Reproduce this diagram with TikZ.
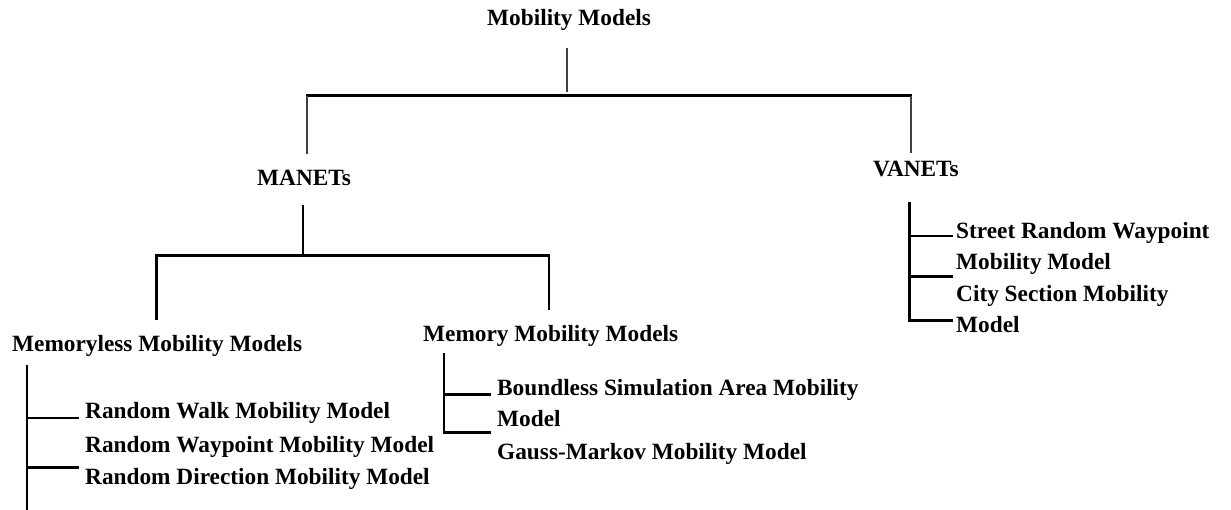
\documentclass[tikz,border=0pt]{standalone}
\usepackage{fontspec}
\setmainfont{Liberation Serif}
\begin{document}
\begin{tikzpicture}[x=1pt,y=-1pt,
  lbl/.style={anchor=base west, inner sep=0pt, font=\fontsize{23.3}{28}\selectfont\bfseries},
  lnA/.style={draw=black!75, line width=1.4pt},
  lnB/.style={draw=black, line width=2pt},
  lnC/.style={draw=black, line width=3pt},
  line cap=butt]
\useasboundingbox (0,0) rectangle (1231,510);

% labels
\node[lbl] (root)  at (487,26)  {Mobility Models};
\node[lbl] (manet) at (257,186) {MANETs};
\node[lbl] (vanet) at (873,177) {VANETs};
\node[lbl] (mless) at (12,352)  {Memoryless Mobility Models};
\node[lbl] (mem)   at (423,342) {Memory Mobility Models};
\node[lbl] (rw)    at (85,418)  {Random Walk Mobility Model};
\node[lbl] (rwp)   at (85,452)  {Random Waypoint Mobility Model};
\node[lbl] (rd)    at (85,484)  {Random Direction Mobility Model};
\node[lbl] (bsa)   at (497,395) {Boundless Simulation Area Mobility};
\node[lbl] (bsb)   at (497,426) {Model};
\node[lbl] (gm)    at (497,459) {Gauss-Markov Mobility Model};
\node[lbl] (srw)   at (956,239) {Street Random Waypoint};
\node[lbl] (srwb)  at (956,270) {Mobility Model};
\node[lbl] (cs)    at (956,302) {City Section Mobility};
\node[lbl] (csb)   at (956,333) {Model};

% connector points
\coordinate (r0) at (567,48);
\coordinate (r1) at (567,92);
\coordinate (bL) at (307,96);
\coordinate (bR) at (911,96);
\coordinate (dL) at (307,154);
\coordinate (dR) at (911,153);

\coordinate (m0) at (303,205);
\coordinate (mL) at (156,256);
\coordinate (mR) at (549,256);
\coordinate (m1) at (303,256);
\coordinate (mLd) at (156,320);
\coordinate (mRd) at (549,310);

\coordinate (l0) at (27,365);
\coordinate (l1) at (27,510);
\coordinate (la) at (27,418);
\coordinate (lb) at (27,467);
\coordinate (laE) at (79,418);
\coordinate (lbE) at (79,467);

\coordinate (e0) at (444,353);
\coordinate (e1) at (444,432);
\coordinate (ea) at (444,394);
\coordinate (eaE) at (491,394);
\coordinate (ebE) at (491,432);

\coordinate (v0) at (909,202);
\coordinate (v1) at (909,321);
\coordinate (va) at (909,236);
\coordinate (vb) at (909,277);
\coordinate (vaE) at (953,236);
\coordinate (vbE) at (953,277);
\coordinate (vcE) at (953,321);

% top level
\draw[lnA] (r0) -- (r1);
\draw[lnC] ([xshift=-0.7pt]bL) -- ([xshift=0.7pt]bR);
\draw[lnA] (bL) -- (dL);
\draw[lnA] (bR) -- (dR);

% MANETs branch
\draw[lnB] (m0) -- (m1);
\draw[lnC] ([xshift=-1.5pt]mL) -- ([xshift=1pt]mR);
\draw[lnC] (mL) -- (mLd);
\draw[lnB] (mR) -- (mRd);

% memoryless models
\draw[lnB] (l0) -- (l1);
\draw[lnB] (la) -- (laE);
\draw[lnC] (lb) -- (lbE);

% memory models
\draw[lnB] (e0) -- ([yshift=1.5pt]e1);
\draw[lnC] (ea) -- (eaE);
\draw[lnC] ([xshift=-1pt]e1) -- (ebE);

% VANETs models
\draw[lnC] (v0) -- ([yshift=1.5pt]v1);
\draw[lnB] (va) -- (vaE);
\draw[lnC] (vb) -- (vbE);
\draw[lnC] ([xshift=-1.5pt]v1) -- (vcE);
\end{tikzpicture}
\end{document}
